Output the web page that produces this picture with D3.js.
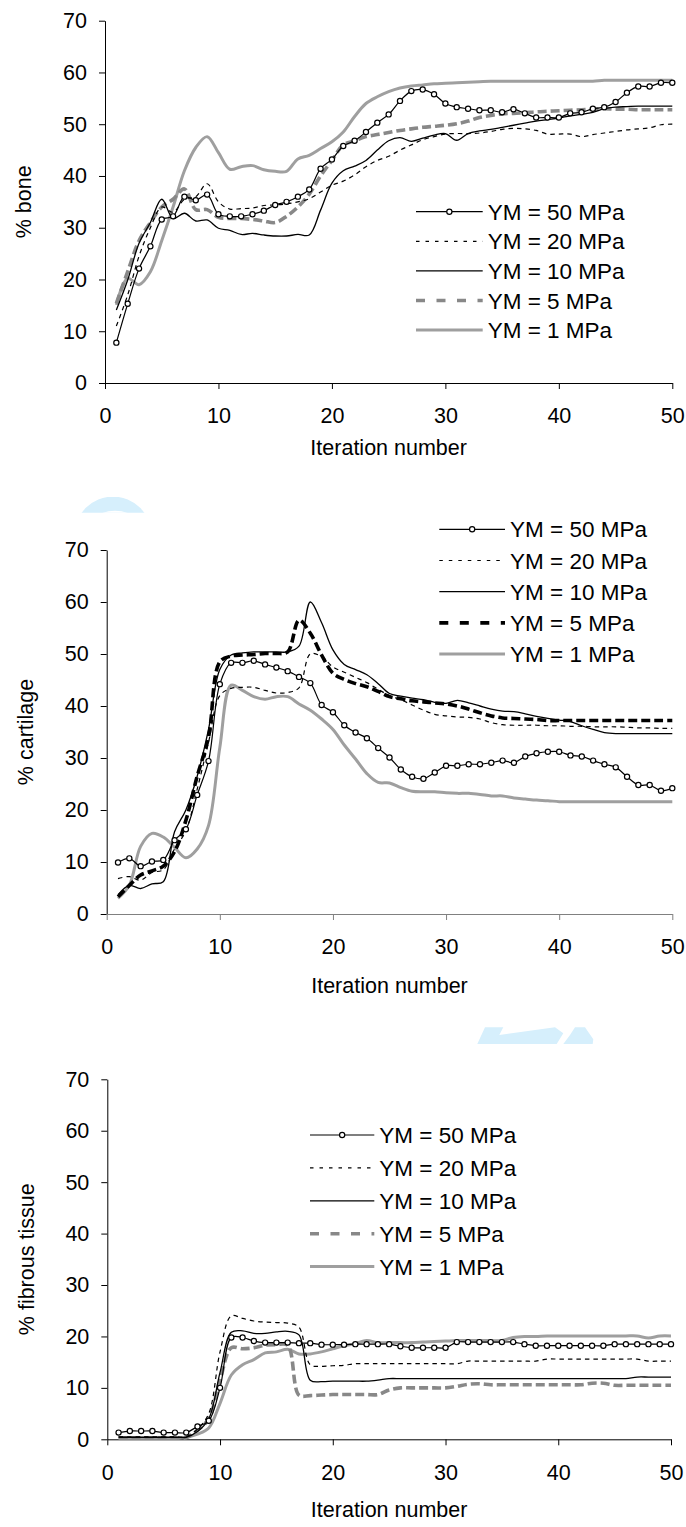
<!DOCTYPE html>
<html>
<head>
<meta charset="utf-8">
<script src="https://cdn.jsdelivr.net/npm/d3@7"></script>
<style>
  body { margin: 0; background: #fff; }
  svg { display: block; }
</style>
</head>
<body>
<div id="chart"></div>
<script>

// iteration numbers (x) shared by all three charts
var iterations = [1,2,3,4,5,6,7,8,9,10,11,12,13,14,15,16,17,18,19,20,
    21,22,23,24,25,26,27,28,29,30,31,32,33,34,35,36,37,38,39,40,
    41,42,43,44,45,46,47,48,49,50];

var seriesNames = ["YM = 50 MPa", "YM = 20 MPa", "YM = 10 MPa", "YM = 5 MPa", "YM = 1 MPa"];
var xTicks = [0, 10, 20, 30, 40, 50];
var yTicks = [0, 10, 20, 30, 40, 50, 60, 70];

// % bone
var bone50 = [7.8,15.3,22.1,26.4,31.6,32.2,36.0,35.3,36.4,32.6,32.2,32.2,32.6,33.3,34.4,35.0,36.0,37.4,41.4,43.2,
    45.8,46.8,48.5,50.3,51.9,54.5,56.4,56.7,55.8,54.0,53.3,53.0,52.7,52.7,52.3,52.9,52.1,51.3,51.3,51.3,
    52.1,52.3,53.0,53.3,54.3,56.1,57.3,57.3,58.0,58.0];
var bone20 = [11,17,24.5,30,34,33,35.5,36,38.5,35,33.6,33.7,33.8,34.3,34.4,34.6,35,35.6,36.9,38.2,
    39,40.2,41.8,43,43.8,45,46,47,47.6,48.1,48.2,48.2,48.3,48.6,49,49.2,49.1,48.8,48.1,48.1,
    48.1,47.6,48,48.3,48.6,48.9,49.1,49.3,49.9,50];
var bone10 = [14.1,19.9,27,31,35.5,31.8,32.8,31.3,31.5,29.9,29.5,28.7,28.9,28.6,28.4,28.4,28.7,28.6,33.4,38.6,
    41,41.9,43,45,46.8,47.4,46.7,47.3,47.9,48.2,46.9,48.2,48.7,49,49.4,49.8,50.2,50.6,50.9,51.2,
    51.6,51.9,52.3,53,53.3,53.4,53.5,53.5,53.5,53.5];
var bone5 = [15.4,21.5,27.5,31,34,35.5,37.5,33.5,33.5,32,31.8,31.8,31.6,31.3,31,32.2,34,36.5,40,43,
    46,46.8,47.6,48,48.4,48.8,49.1,49.4,49.6,49.8,50.1,50.6,51.3,51.7,52,52.1,52.2,52.4,52.5,52.6,
    52.7,52.8,52.9,53,52.9,52.9,52.8,52.8,52.8,52.8];
var bone1 = [15.1,20.2,19.0,21.5,27.5,34,41,45.5,47.6,44.5,41.3,41.8,42.0,41.2,40.9,40.9,43.3,44.0,45.3,46.6,
    48.5,51.5,54,55.3,56.3,57.0,57.4,57.6,57.8,57.9,58.0,58.1,58.2,58.3,58.3,58.3,58.3,58.3,58.3,58.3,
    58.3,58.3,58.3,58.5,58.5,58.5,58.5,58.5,58.5,58.5];

// % cartilage
var cart50 = [9.9,10.7,9.2,10.1,10.4,14.2,16.3,22.9,29.4,44.2,48.3,48.3,48.7,48.0,47.4,46.7,45.6,44.4,40.2,38.8,
    36.3,34.9,33.8,31.9,30.1,27.8,26.4,26.0,27.2,28.5,28.5,28.8,28.8,29.1,29.5,29.1,30.3,30.9,31.2,31.2,
    30.5,30.3,29.5,28.8,28.2,26.4,24.8,24.8,23.7,24.2];
var cart20 = [6.8,7.2,6.5,8,8.5,12.5,16,24,33,42,43.4,43.6,43.6,43,42.5,42.6,43.5,50,49.5,47.5,
    46.5,45.5,44.5,43.2,42,41.2,40.2,39.2,38.4,38.1,37.9,37.8,37.5,36.8,36.4,36.3,36.3,36.3,36.2,36.2,
    36.1,36.1,36,36,36,35.9,35.8,35.8,35.7,35.7];
var cart10 = [3.7,5.5,4.9,5.8,6.2,15.8,20,26.5,35.5,47,49.8,50.2,50.4,50.4,50.4,50.4,51.5,60,56,50.8,
    48,47,46,44.3,42.4,41.9,41.5,41.2,40.7,40.5,41.1,40.6,40,39.4,39,38.9,38.5,38,37.6,37.3,
    37,36.2,35.5,34.9,34.7,34.7,34.7,34.7,34.7,34.7];
var cart5 = [3.3,5.5,7.5,8.3,9.2,12,18,26.5,34,48.5,49.6,49.8,49.9,50.1,50.1,50.4,56.5,54,49.8,46.3,
    45.1,44.3,43.7,42.8,41.8,41.4,41,40.8,40.6,40.4,40,39.4,38.7,38.1,37.7,37.6,37.5,37.4,37.2,37.2,
    37.2,37.2,37.2,37.2,37.2,37.2,37.2,37.2,37.2,37.2];
var cart1 = [3.0,5.5,13,15.5,14.8,12.8,10.8,12.5,17,32,44,43,41.8,41.3,41.8,41.8,40.4,39.2,37.5,35.5,
    32.5,29.8,27,25.3,25.2,24.3,23.6,23.5,23.5,23.3,23.2,23.2,23,22.7,22.7,22.3,22.1,21.9,21.8,21.6,
    21.6,21.6,21.6,21.6,21.6,21.6,21.6,21.6,21.6,21.6];

// % fibrous tissue
var fib50 = [1.3,1.6,1.6,1.6,1.3,1.3,1.3,2.5,3.6,10,19.8,19.8,19.1,18.8,18.8,18.8,18.7,18.7,18.4,18.4,
    18.4,18.5,18.5,18.5,18.5,18.1,17.8,17.8,17.8,17.8,18.9,18.9,18.9,18.9,18.9,18.9,18.5,18.2,18.2,18.2,
    18.2,18.2,18.2,18.2,18.5,18.5,18.5,18.5,18.5,18.5];
var fib20 = [0.5,0.5,0.5,0.5,0.5,0.5,0.5,2,5,17,24,23.5,23,22.8,22.7,22.6,21.8,14.5,14.2,14.3,
    14.4,14.7,14.7,14.7,14.7,14.7,14.7,14.7,14.7,14.7,14.7,15.2,15.2,15.2,15.2,15.2,15.2,15.2,15.6,15.6,
    15.6,15.6,15.6,15.6,15.6,15.6,15.6,15.2,15.2,15.2];
var fib10 = [0.4,0.4,0.4,0.4,0.4,0.4,0.4,1.5,4,13,20.8,21.1,20.6,20.6,20.9,21,20.3,11.5,11.2,11.3,
    11.3,11.3,11.3,11.5,11.8,11.8,11.8,11.8,11.8,11.8,11.8,11.8,11.8,11.8,11.8,11.8,11.8,11.8,11.8,11.8,
    11.8,11.8,11.8,11.8,11.8,11.8,12.1,12.1,12.1,12.1];
var fib5 = [0.3,0.3,0.3,0.3,0.3,0.3,0.3,1.8,4,11.5,17.8,17.6,17.8,18.3,18.4,18.3,8.6,8.5,8.6,8.7,
    8.7,8.7,8.7,8.7,9.6,10,10,10,10,10,10.3,10.7,10.8,10.6,10.6,10.6,10.6,10.6,10.6,10.6,
    10.6,10.6,10.9,10.9,10.5,10.5,10.5,10.5,10.5,10.5];
var fib1 = [0.2,0.2,0.2,0.2,0.2,0.2,0.4,1.0,2.2,7,12.5,14.5,15.5,16.8,17,17.5,16.6,16.6,17,17.6,
    18.2,18.6,19.2,18.8,18.8,18.8,18.8,18.9,19,19.1,19.2,19.2,19.2,19.2,19.2,19.8,20,20,20.1,20.1,
    20.1,20.1,20.1,20.1,20.1,20.1,20.1,19.7,20.1,20.1];


const width = 686, height = 1527;
const FONT = "'Liberation Sans', Arial, Helvetica, sans-serif";

const svg = d3.select("#chart").append("svg")
    .attr("width", width)
    .attr("height", height)
    .style("background", "#fff");

// faint blue fragments of a watermark, partly hidden behind the charts
var wm = svg.append("g").attr("fill", "#d6effc");
svg.append("clipPath").attr("id", "wmclip")
    .append("rect").attr("x", 70).attr("y", 497).attr("width", 90).attr("height", 15.7);
var wm1 = wm.append("g").attr("clip-path", "url(#wmclip)");
wm1.append("circle").attr("cx", 113).attr("cy", 535).attr("r", 38.4);
wm1.append("circle").attr("cx", 115).attr("cy", 547.7).attr("r", 37).attr("fill", "#fff");
wm.append("path").attr("d", "M477.3,1044 L485,1027.3 L503.3,1027.3 L499.3,1035 L555,1027.3 L563.3,1033.3 L556.7,1044 Z");
wm.append("path").attr("d", "M563.3,1044 L570,1035 L575,1027.3 L585,1027.3 L593.3,1039.3 L592.7,1044 Z");

// how each series is drawn (same order as seriesNames)
function seriesStyles(col5) {
    return [
        {stroke: "#000", width: 1.2, dash: null, legendDash: null, marker: true},
        {stroke: "#000", width: 1.2, dash: "4.5,4", legendDash: "3.5,6", marker: false},
        {stroke: "#000", width: 1.3, dash: null, legendDash: null, marker: false},
        {stroke: col5, width: 3.6, dash: "9,4", legendDash: "9,11.5", marker: false},
        {stroke: "#9f9f9f", width: 3, dash: null, legendDash: null, marker: false}
    ];
}

function drawChart(opt) {
    var g = svg.append("g");

    var x = d3.scaleLinear().domain([0, 50]).range([opt.left, opt.right]);
    var y = d3.scaleLinear().domain([0, 70]).range([opt.bottom, opt.top]);

    // axes
    var yAxis = g.append("g")
        .attr("transform", "translate(" + opt.left + ",0)")
        .call(d3.axisLeft(y).tickValues(yTicks).tickSize(6).tickSizeOuter(0).tickPadding(12));
    var xAxis = g.append("g")
        .attr("transform", "translate(0," + opt.bottom + ")")
        .call(d3.axisBottom(x).tickValues(xTicks).tickSize(6).tickSizeOuter(0).tickPadding(19));

    [yAxis, xAxis].forEach(function(a, k) {
        var col = (k == 1) ? opt.xAxisColor : "#000";
        a.attr("font-size", null).attr("font-family", null);
        a.select(".domain").attr("stroke", col);
        a.selectAll(".tick line").attr("stroke", col);
        a.selectAll(".tick text")
            .attr("fill", "#000")
            .style("font-family", FONT)
            .style("font-size", "21.5px");
    });

    // axis titles
    g.append("text")
        .attr("transform", "translate(" + opt.yTitleX + "," + ((opt.top + opt.bottom) / 2) + ") rotate(-90)")
        .attr("text-anchor", "middle")
        .attr("dy", "0.36em")
        .style("font-family", FONT)
        .style("font-size", "21.5px")
        .text(opt.yTitle);

    g.append("text")
        .attr("x", (opt.left + opt.right) / 2)
        .attr("y", opt.xTitleY)
        .attr("text-anchor", "middle")
        .style("font-family", FONT)
        .style("font-size", "21.5px")
        .text("Iteration number");

    var styles = seriesStyles(opt.col5);

    var line = d3.line()
        .x(function(d, i) { return x(iterations[i]); })
        .y(function(d) { return y(d); })
        .curve(d3.curveCatmullRom.alpha(0.5));

    // draw 1 MPa first so the marked 50 MPa series ends up on top
    for (var s = opt.data.length - 1; s >= 0; s--) {
        var st = styles[s];
        g.append("path")
            .datum(opt.data[s])
            .attr("d", line)
            .attr("fill", "none")
            .attr("stroke", st.stroke)
            .attr("stroke-width", st.width)
            .attr("stroke-dasharray", st.dash)
            .attr("stroke-linejoin", "round");

        if (st.marker) {
            g.selectAll(null)
                .data(opt.data[s])
                .enter()
                .append("circle")
                .attr("cx", function(d, i) { return x(iterations[i]); })
                .attr("cy", function(d) { return y(d); })
                .attr("r", 2.6)
                .attr("fill", "#fff")
                .attr("stroke", "#000")
                .attr("stroke-width", 1.2);
        }
    }

    // legend
    var lg = g.append("g");
    seriesNames.forEach(function(name, k) {
        var st = styles[k];
        var ly = opt.legendY + k * opt.legendStep;
        lg.append("line")
            .attr("x1", opt.legendX0).attr("x2", opt.legendX1)
            .attr("y1", ly).attr("y2", ly)
            .attr("stroke", st.stroke)
            .attr("stroke-width", st.width)
            .attr("stroke-dasharray", st.legendDash);
        if (st.marker) {
            lg.append("circle")
                .attr("cx", (opt.legendX0 + opt.legendX1) / 2)
                .attr("cy", ly)
                .attr("r", 2.6)
                .attr("fill", "#fff")
                .attr("stroke", "#000")
                .attr("stroke-width", 1.2);
        }
        lg.append("text")
            .attr("x", opt.legendX1 + 5)
            .attr("y", ly)
            .attr("dy", "0.36em")
            .style("font-family", FONT)
            .style("font-size", "22.5px")
            .text(name);
    });
}

drawChart({
    data: [bone50, bone20, bone10, bone5, bone1],
    left: 105, right: 672.3, top: 20.7, bottom: 383,
    yTitle: "% bone", yTitleX: 23, xTitleY: 455,
    xAxisColor: "#000", col5: "#888888",
    legendX0: 416, legendX1: 482.7, legendY: 211.7, legendStep: 29.6
});

drawChart({
    data: [cart50, cart20, cart10, cart5, cart1],
    left: 106.7, right: 672.3, top: 550, bottom: 914,
    yTitle: "% cartilage", yTitleX: 25, xTitleY: 993,
    xAxisColor: "#808080", col5: "#000",
    legendX0: 439.3, legendX1: 505, legendY: 529.3, legendStep: 31.2
});

drawChart({
    data: [fib50, fib20, fib10, fib5, fib1],
    left: 107.3, right: 671, top: 1079.3, bottom: 1439.3,
    yTitle: "% fibrous tissue", yTitleX: 26, xTitleY: 1517,
    xAxisColor: "#000", col5: "#888888",
    legendX0: 310, legendX1: 374.3, legendY: 1135, legendStep: 32.9
});

</script>
</body>
</html>
